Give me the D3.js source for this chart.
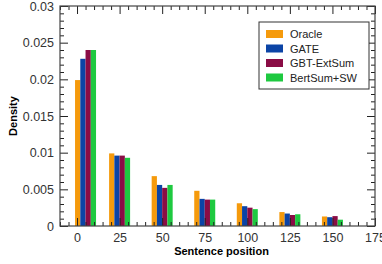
<!DOCTYPE html>
<html>
<head>
<meta charset="utf-8">
<style>
  body { margin: 0; background: white; }
  svg { display: block; font-family: 'Liberation Sans', Arial, sans-serif; }
</style>
</head>
<body>
<svg width="382" height="264"></svg>
<script src="https://d3js.org/d3.v7.min.js"></script>
<script>
// data
let positions = [5, 25, 50, 75, 100, 125, 150];
let series = ["Oracle", "GATE", "GBT-ExtSum", "BertSum+SW"];
let colors = ["#f59a0c", "#0b44a6", "#8a0c45", "#1ec940"];
let oracle = [0.0199, 0.0099, 0.0068, 0.0048, 0.0031, 0.0019, 0.0013];
let gate = [0.0228, 0.0096, 0.0056, 0.0037, 0.0027, 0.0017, 0.0012];
let gbt = [0.0240, 0.0096, 0.0052, 0.0036, 0.0025, 0.0015, 0.00135];
let bertsum = [0.0240, 0.0093, 0.0056, 0.0036, 0.0023, 0.0016, 0.00086];
let xTicks = [0, 25, 50, 75, 100, 125, 150, 175];
let yTicks = [0, 0.005, 0.01, 0.015, 0.02, 0.025, 0.03];

let values = [oracle, gate, gbt, bertsum];

let margin = { top: 6, right: 7, bottom: 38, left: 60 };
let width = 382, height = 264;

let svg = d3.select("svg");

let x = d3.scaleLinear().domain([-10, 175]).range([margin.left, width - margin.right]);
let y = d3.scaleLinear().domain([0, 0.03]).range([height - margin.bottom, margin.top]);
let inner = d3.scaleBand().domain(series).range([-10.5, 10.5]);

// bars
series.forEach(function (s, i) {
    svg.append("g")
        .selectAll("rect")
        .data(values[i])
        .join("rect")
        .attr("x", (d, j) => x(positions[j]) + inner(s))
        .attr("width", inner.bandwidth())
        .attr("y", d => y(d))
        .attr("height", d => y(0) - y(d))
        .style("fill", colors[i]);
});

// minor tick values
let xMinor = d3.range(-10, 176, 5).filter(v => v % 25 != 0);
let yMinor = d3.range(0, 31).map(v => v / 1000).filter((v, i) => i % 5 != 0);

function styleAxis(g) {
    g.select(".domain").remove();
    g.selectAll(".tick line").style("stroke", "#222").style("stroke-width", 1);
    g.selectAll("text").style("font-size", "12.5px").style("fill", "#333");
}

// bottom
svg.append("g").attr("transform", `translate(0,${y(0)})`)
    .call(d3.axisBottom(x).tickValues(xMinor).tickSize(-4).tickFormat(""))
    .call(styleAxis);
svg.append("g").attr("transform", `translate(0,${y(0)})`)
    .call(d3.axisBottom(x).tickValues(xTicks).tickSize(-8).tickPadding(7).tickFormat(d3.format("d")))
    .call(styleAxis);
// top
svg.append("g").attr("transform", `translate(0,${y(0.03)})`)
    .call(d3.axisTop(x).tickValues(xMinor).tickSize(-4).tickFormat(""))
    .call(styleAxis);
svg.append("g").attr("transform", `translate(0,${y(0.03)})`)
    .call(d3.axisTop(x).tickValues(xTicks).tickSize(-8).tickFormat(""))
    .call(styleAxis);
// left
svg.append("g").attr("transform", `translate(${x(-10)},0)`)
    .call(d3.axisLeft(y).tickValues(yMinor).tickSize(-4).tickFormat(""))
    .call(styleAxis);
svg.append("g").attr("transform", `translate(${x(-10)},0)`)
    .call(d3.axisLeft(y).tickValues(yTicks).tickSize(-8).tickPadding(6).tickFormat(d => d === 0 ? "0" : String(d)))
    .call(styleAxis);
// right
svg.append("g").attr("transform", `translate(${x(175)},0)`)
    .call(d3.axisRight(y).tickValues(yMinor).tickSize(-4).tickFormat(""))
    .call(styleAxis);
svg.append("g").attr("transform", `translate(${x(175)},0)`)
    .call(d3.axisRight(y).tickValues(yTicks).tickSize(-8).tickFormat(""))
    .call(styleAxis);

// frame
svg.append("rect")
    .attr("x", x(-10)).attr("y", y(0.03))
    .attr("width", x(175) - x(-10)).attr("height", y(0) - y(0.03))
    .style("fill", "none").style("stroke", "#444").style("stroke-width", 1.2);

// axis titles
svg.append("text")
    .text("Sentence position")
    .attr("x", (x(-10) + x(175)) / 2 + 4)
    .attr("y", 255)
    .attr("text-anchor", "middle")
    .style("font-size", "11px").style("font-weight", "bold");

svg.append("text")
    .text("Density")
    .attr("transform", `translate(17,${(y(0) + y(0.03)) / 2}) rotate(-90)`)
    .attr("text-anchor", "middle")
    .style("font-size", "11px").style("font-weight", "bold");

// legend
let legend = svg.append("g").attr("transform", "translate(259,22)");
legend.append("rect")
    .attr("width", 110).attr("height", 67)
    .style("fill", "white").style("stroke", "#333").style("stroke-width", 1);
series.forEach(function (s, i) {
    legend.append("rect")
        .attr("x", 7).attr("y", 8 + i * 14.5)
        .attr("width", 17).attr("height", 8)
        .style("fill", colors[i]);
    legend.append("text")
        .text(s)
        .attr("x", 31).attr("y", 16 + i * 14.5)
        .style("font-size", "11px").style("fill", "#222");
});
</script>
</body>
</html>
